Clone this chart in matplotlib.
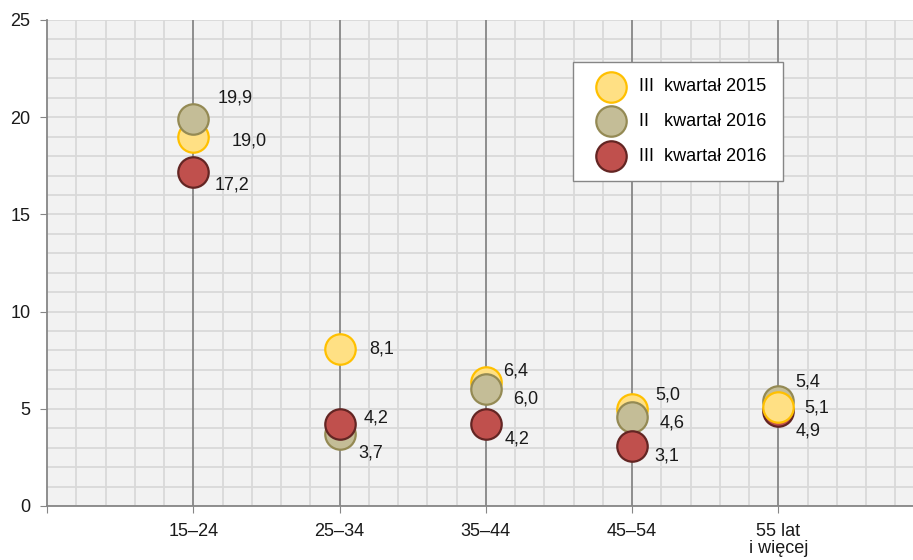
import numpy as np
import matplotlib.pyplot as plt
from matplotlib.ticker import MultipleLocator

plt.rcParams['font.family'] = ['Liberation Sans', 'DejaVu Sans']

# data
groups = ["15–24", "25–34", "35–44", "45–54", "55 lat\ni więcej"]
series = ["III  kwartał 2015", "II   kwartał 2016", "III  kwartał 2016"]
q3_2015 = [19.0, 8.1, 6.4, 5.0, 5.1]
q2_2016 = [19.9, 3.7, 6.0, 4.6, 5.4]
q3_2016 = [17.2, 4.2, 4.2, 3.1, 4.9]
values = [q3_2015, q2_2016, q3_2016]

fills = ["#FFE084", "#C4BD97", "#C0504D"]
edges = ["#FFC000", "#948A54", "#632523"]

# label offsets in pixels (dx, dy), per series per group
offsets = [
    [(38, -4), (30, 0), (17, 11), (23, 14), (26, -1)],
    [(24, 21), (19, -19), (27, -10), (27, -6), (17, 19)],
    [(21, -13), (24, 6), (19, -15), (22, -10), (17, -20)],
]
# draw order per group (which series ends up on top)
zorders = [
    [3, 3, 3, 3, 6],
    [4, 4, 4, 4, 4],
    [5, 5, 5, 5, 5],
]

fs = 13

fig = plt.figure(figsize=(9.13, 5.60), dpi=100)
ax = fig.add_axes([47 / 913, 54 / 560, 1 - 47 / 913, 486 / 560])
ax.set_facecolor("#F2F2F2")

x = np.arange(1, len(groups) + 1)
handles = []
for i in range(len(series)):
    for j in range(len(groups)):
        h = ax.scatter(x[j], values[i][j], s=480, color=fills[i], edgecolors=edges[i],
                       linewidths=1.6, zorder=zorders[i][j], label=series[i] if j == 0 else None)
        if j == 0:
            handles.append(h)
        lbl = ("%.1f" % values[i][j]).replace(".", ",")
        dx, dy = offsets[i][j]
        ax.annotate(lbl, (x[j], values[i][j]), xytext=(dx, dy), textcoords="offset pixels",
                    ha="left", va="center", fontsize=fs, color="#1a1a1a", zorder=7)

ax.set_xlim(0, 5.92)
ax.set_ylim(0, 25)
ax.xaxis.set_minor_locator(MultipleLocator(0.2))
ax.yaxis.set_minor_locator(MultipleLocator(1))
ax.yaxis.set_major_locator(MultipleLocator(5))
ax.grid(which="minor", color="#D9D9D9", linewidth=1.3, zorder=0)
ax.grid(which="major", axis="y", color="#D9D9D9", linewidth=1.3, zorder=0)
for xv in x:
    ax.axvline(xv, color="#868686", linewidth=1.3, zorder=1)
ax.set_axisbelow(True)

ax.set_xticks(np.concatenate([[0], x]))
ax.set_xticklabels([""] + groups, fontsize=fs, color="#1a1a1a", linespacing=1.05)
ax.tick_params(axis="x", which="major", length=5, color="#868686", pad=7)
ax.tick_params(axis="y", which="major", length=5, color="#868686", labelsize=fs,
               labelcolor="#1a1a1a", pad=7)
ax.tick_params(which="minor", length=0)
for s in ["top", "right"]:
    ax.spines[s].set_visible(False)
for s in ["left", "bottom"]:
    ax.spines[s].set_color("#868686")
    ax.spines[s].set_linewidth(1.3)

leg = ax.legend(handles=handles, loc="upper left", bbox_to_anchor=(0.607, 0.9136),
                borderaxespad=0, fontsize=fs, frameon=True, fancybox=False,
                edgecolor="#868686", framealpha=1, labelspacing=0.98, borderpad=0.9,
                handletextpad=0.4, markerscale=1.0, handlelength=2.4)
leg.get_frame().set_linewidth(1.0)

fig.savefig("out.png", dpi=100)
